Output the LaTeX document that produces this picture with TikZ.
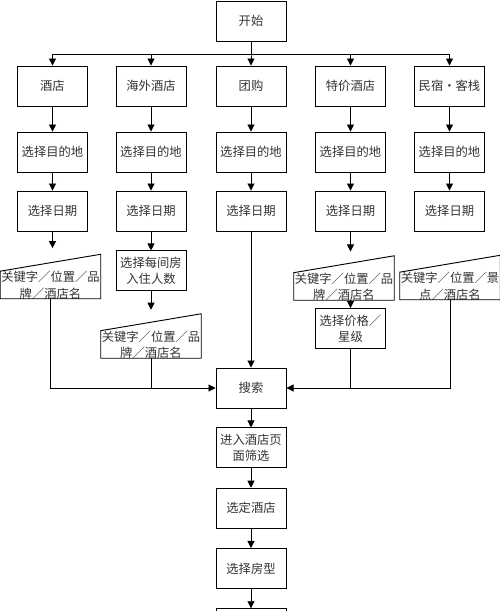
\documentclass[tikz,border=0pt]{standalone}
\usepackage{fontspec}
\setmainfont{Noto Sans CJK SC}
\usetikzlibrary{arrows.meta,positioning,calc}

% slanted input box: name, x, y, text
\newcommand{\kwin}[4]{%
  \node[kwshape] (#1) at (#2,#3) {};
  \node[align=center, inner sep=0pt] (#1t) at ($(#1.center)+(0,9)$) {#4};
  \draw[line] (#1.south west) -- (#1.south east) -- (#1.north east)
    -- ($(#1.north west)!0.38!(#1.south west)$) -- cycle;}

\begin{document}
\begin{tikzpicture}[x=0.03cm, y=-0.03cm,
  node distance=0.58cm,
  every node/.style={font=\fontsize{10.5}{14}\selectfont, text=black!80},
  line/.style={line width=0.8pt},
  box/.style={draw, line width=0.8pt, minimum width=2.1cm,
    minimum height=1.2cm, align=center, inner sep=1pt},
  kwshape/.style={minimum width=3cm, minimum height=1.32cm, inner sep=0pt},
  arr/.style={line, -{Triangle[length=6pt,width=6pt]}}]
\useasboundingbox (0,0) rectangle (500,611);
\node[box] (start) at (251,21) {开始};
\coordinate (bus) at (251,54);
\foreach \i/\x/\t in {1/52.5/酒店, 2/151/海外酒店, 3/251/团购,
    4/350.5/特价酒店, 5/449.5/民宿・客栈} {
  \node[box] (h\i) at (\x,86) {\t};
  \node[box] (g\i) at (\x,152) {选择目的地};
  \node[box] (d\i) at (\x,211) {选择日期};
  \draw[arr] (start.south) -- (bus) -| (h\i);
  \draw[arr] (h\i) -- (g\i);
  \draw[arr] (g\i) -- (d\i);
}
% keyword inputs
\kwin{kw1}{50.5}{276.5}{关键字／位置／品\\牌／酒店名}
\kwin{kw2}{151}{336}{关键字／位置／品\\牌／酒店名}
\kwin{kw4}{344}{278}{关键字／位置／品\\牌／酒店名}
\kwin{kw5}{450}{277.5}{关键字／位置／景\\点／酒店名}
\coordinate[below=0.5cm of d1] (in1);
\draw[arr] (d1) -- (in1);
\node[box, below=0.57cm of d2] (p2) {选择每间房\\入住人数};
\draw[arr] (d2) -- (p2);
\coordinate[below=0.55cm of p2] (in2);
\draw[arr] (p2) -- (in2);
\coordinate[below=0.6cm of d4] (in4);
\draw[arr] (d4) -- (in4);
\node[box] (price) at (350.5,328.5) {选择价格／\\星级};
\draw[arr] (kw4.south -| price) -- (price);
% search and after
\node[box] (search) at (251,388) {搜索};
\draw[arr] (d3) -- (search);
\draw[arr] (kw1.south) |- (search.west);
\draw[line] (kw2.south) -- (kw2.south |- search.west);
\draw[arr] (kw5.south) |- (search.east);
\draw[line] (price.south) -- (price.south |- search.east);
\node[box, below=0.57cm of search] (filter) {进入酒店页\\面筛选};
\node[box, below=of filter] (pick) {选定酒店};
\node[box, below=of pick] (room) {选择房型};
\node[box, below=of room] (next) {};
\draw[arr] (search) -- (filter);
\draw[arr] (filter) -- (pick);
\draw[arr] (pick) -- (room);
\draw[arr] (room) -- (next);
\end{tikzpicture}
\end{document}
